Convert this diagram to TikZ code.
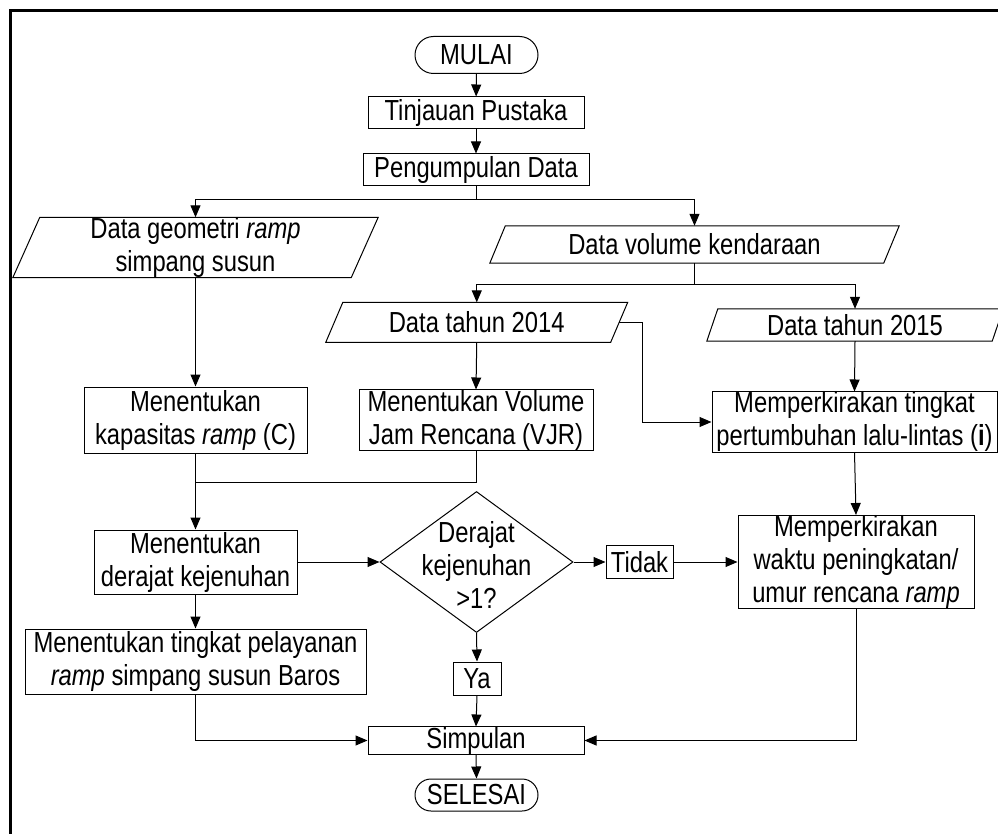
\documentclass[tikz,border=0pt]{standalone}
\usepackage{fontspec}
\setmainfont[FakeStretch=0.82]{Liberation Sans}
\usetikzlibrary{shapes.geometric,shapes.misc,arrows.meta}
\begin{document}
\begin{tikzpicture}[x=1pt,y=-1pt,
  every node/.style={font=\fontsize{29}{33}\selectfont, inner sep=0pt, align=center},
  box/.style={draw, line width=1pt, minimum width=#1},
  term/.style={draw, line width=1pt, rounded rectangle, minimum width=123pt},
  iobox/.style={minimum width=#1},
  arr/.style={line width=1pt, -{Triangle[length=12pt,width=10pt]}},
  ln/.style={line width=1pt}
]
\useasboundingbox (0,0) rectangle (998,834);
\draw[line width=2.6pt] (10.5,834) -- (10.5,10.5) -- (998,10.5);

% terminals and boxes
\node[term, minimum height=37pt] (mul) at (476.5,55) {MULAI};
\node[box=216pt, minimum height=32pt] (tin) at (476,113) {Tinjauan Pustaka};
\node[box=226pt, minimum height=32pt] (pen) at (476,170) {Pengumpulan Data};

% parallelograms
\node[iobox=338pt, minimum height=59pt] (geo) at (195.5,247.5) {Data geometri \textit{ramp}\\simpang susun};
\draw[ln] ([xshift=13.5pt]geo.north west) -- ([xshift=13.5pt]geo.north east) -- ([xshift=-13.5pt]geo.south east) -- ([xshift=-13.5pt]geo.south west) -- cycle;
\node[iobox=393.5pt, minimum height=37pt] (vol) at (694.5,244.5) {Data volume kendaraan};
\draw[ln] ([xshift=7.75pt]vol.north west) -- ([xshift=7.75pt]vol.north east) -- ([xshift=-7.75pt]vol.south east) -- ([xshift=-7.75pt]vol.south west) -- cycle;
\node[iobox=284.5pt, minimum height=39.5pt] (d14) at (476.75,322.3) {Data tahun 2014};
\draw[ln] ([xshift=8.5pt]d14.north west) -- ([xshift=8.5pt]d14.north east) -- ([xshift=-8.5pt]d14.south east) -- ([xshift=-8.5pt]d14.south west) -- cycle;
\node[iobox=285pt, minimum height=32pt] (d15) at (855,325) {Data tahun 2015};
\draw[ln] ([xshift=5.5pt]d15.north west) -- ([xshift=5.5pt]d15.north east) -- ([xshift=-5.5pt]d15.south east) -- ([xshift=-5.5pt]d15.south west) -- cycle;

\node[box=223pt, minimum height=66pt] (kap) at (195.5,420) {Menentukan\\kapasitas \textit{ramp} (C)};
\node[box=234pt, minimum height=60pt] (vjr) at (476,420) {Menentukan Volume\\Jam Rencana (VJR)};
\node[box=285pt, minimum height=58pt] (tkt) at (854.5,422) {Memperkirakan tingkat\\pertumbuhan lalu-lintas (\textbf{i})};

\node[box=203pt, minimum height=64pt] (der) at (195.5,562) {Menentukan\\derajat kejenuhan};
\node[diamond, draw, line width=1pt, minimum width=193pt, minimum height=141pt] (dia) at (476.5,562) {};
\node (diat) at (476.5,565) {Derajat\\kejenuhan\\>1?};
\node[box=67pt, minimum height=33pt] (tdk) at (639.5,562) {Tidak};
\node[box=236pt, minimum height=88pt] (wkt) at (856,562) {Memperkirakan\\waktu peningkatan/\\umur rencana \textit{ramp}};

\node[box=341pt, minimum height=65pt] (pel) at (195.5,661.5) {Menentukan tingkat pelayanan\\\textit{ramp} simpang susun Baros};
\node[box=48pt, minimum height=33pt] (ya) at (477,678.5) {Ya};
\node[box=216pt, minimum height=27pt] (sim) at (476,740.5) {Simpulan};
\node[term, minimum height=32pt] (sel) at (476.5,795) {SELESAI};

% junction points
\coordinate (j1) at (476,200);
\coordinate (j2) at (694.5,284);
\coordinate (j3) at (195.5,482);
\coordinate (j4) at (642,322.3);

% connectors
\draw[arr] (mul) -- (tin);
\draw[arr] (tin) -- (pen);
\draw[ln] (pen.south) -- (j1);
\draw[arr] (j1) -| (geo.north);
\draw[arr] (j1) -| (vol.north);
\draw[ln] (vol.south) -- (j2);
\draw[arr] (j2) -| (d14.north);
\draw[arr] (j2) -| (d15.north);
\draw[ln] (d14.east) -- (j4);
\draw[arr] (j4) |- (tkt.west);
\draw[arr] (d15.south) -- (tkt.north);
\draw[arr] (geo.south) -- (kap.north);
\draw[arr] (d14.south) -- (vjr.north);
\draw[arr] (kap.south) -- (der.north);
\draw[ln] (vjr.south) |- (j3);
\draw[arr] (der.east) -- (dia.west);
\draw[arr] (dia.east) -- (tdk.west);
\draw[arr] (tdk.east) -- (wkt.west);
\draw[arr] (tkt.south) -- (wkt.north);
\draw[arr] (dia.south) -- (ya.north);
\draw[arr] (ya.south) -- (sim.north);
\draw[arr] (der.south) -- (pel.north);
\draw[arr] (pel.south) |- (sim.west);
\draw[arr] (wkt.south) |- (sim.east);
\draw[arr] (sim.south) -- (sel.north);
\end{tikzpicture}
\end{document}
